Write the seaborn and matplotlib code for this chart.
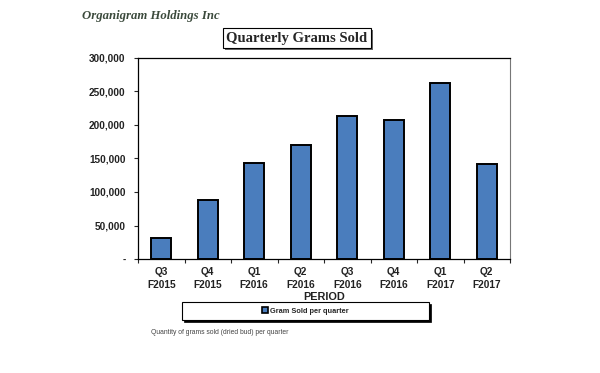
import numpy as np
import pandas as pd
import seaborn as sns
import matplotlib.pyplot as plt
import matplotlib.patheffects as pe
from matplotlib.patches import Rectangle
from matplotlib.ticker import FuncFormatter, FixedLocator

periods = ["Q3\nF2015", "Q4\nF2015", "Q1\nF2016", "Q2\nF2016",
           "Q3\nF2016", "Q4\nF2016", "Q1\nF2017", "Q2\nF2017"]
grams = [32000, 87500, 143500, 170000, 213500, 207500, 262000, 142000]
yticks = [0, 50000, 100000, 150000, 200000, 250000, 300000]

df = pd.DataFrame({"period": periods, "grams": grams})

sns.set_style("white")
plt.rcParams['font.family'] = ['Liberation Sans', 'DejaVu Sans']

fig = plt.figure(figsize=(6, 3.73), dpi=100)
ax = fig.add_axes([0.23, 0.3056, 0.62, 0.539])

bar_color = "#4a7dbd"
sns.barplot(data=df, x="period", y="grams", color=bar_color, edgecolor="black",
            linewidth=1.4, width=0.43, saturation=1, ax=ax)

ax.set_ylim(0, 300000)
ax.set_xlim(-0.5, len(periods) - 0.5)
ax.set_yticks(yticks)
ax.yaxis.set_major_formatter(FuncFormatter(lambda v, p: "-" if v == 0 else f"{int(v):,}"))
ax.tick_params(axis="y", direction="out", length=3, width=0.8, labelsize=7.2, pad=6, left=True)
ax.tick_params(axis="x", which="major", length=0, labelsize=7.3, pad=6)
ax.xaxis.set_minor_locator(FixedLocator(np.arange(-0.5, len(periods), 1.0)))
ax.tick_params(axis="x", which="minor", direction="out", length=3, width=0.8, bottom=True)
for lab in ax.get_xticklabels() + ax.get_yticklabels():
    lab.set_fontweight("bold")
    lab.set_color("#222222")
for lab in ax.get_xticklabels():
    lab.set_linespacing(1.35)

ax.set_ylabel("")
ax.set_xlabel("PERIOD", fontsize=7.8, fontweight="bold", labelpad=1, color="#222222")

for side in ["left", "bottom", "top"]:
    ax.spines[side].set_color("black")
    ax.spines[side].set_linewidth(0.9)
ax.spines["right"].set_color("#777777")
ax.spines["right"].set_linewidth(0.8)

# company name
fig.text(0.137, 0.958, "Organigram Holdings Inc", family=["Liberation Serif"],
         fontsize=9.2, fontweight="bold", style="italic", color="#3b4a3c", va="center")

# boxed title with shadow
t = fig.text(0.495, 0.898, "Quarterly Grams Sold", family=["Liberation Serif"],
             fontsize=10.5, fontweight="bold", ha="center", va="center",
             bbox=dict(boxstyle="square,pad=0.25", fc="white", ec="black", lw=0.8))
t.get_bbox_patch().set_path_effects([
    pe.SimplePatchShadow(offset=(1.5, -1.5), shadow_rgbFace="#555555", alpha=0.9),
    pe.Normal()])

# legend box with shadow
lx0, ly0, lw_, lh = 182 / 600, 1 - 320 / 373, 247 / 600, 18 / 373
fig.patches.append(Rectangle((lx0 + 1.5 / 600, ly0 - 1.5 / 373), lw_, lh, transform=fig.transFigure,
                             fc="black", ec="black", lw=0.5, zorder=1))
fig.patches.append(Rectangle((lx0, ly0), lw_, lh, transform=fig.transFigure,
                             fc="white", ec="black", lw=0.8, zorder=2))
handle = Rectangle((0, 0), 1, 1, fc=bar_color, ec="black", lw=1.2)
leg = fig.legend([handle], ["Gram Sold per quarter"], loc="center",
                 bbox_to_anchor=(lx0 + lw_ / 2, ly0 + lh / 2), frameon=False,
                 prop=dict(size=5.3, weight="bold"), handlelength=0.8, handleheight=0.8,
                 handletextpad=0.3, borderpad=0)
leg.set_zorder(3)

# footnote
fig.text(0.252, 1 - 332 / 373, "Quantity of grams sold (dried bud) per quarter",
         fontsize=4.9, color="#444444", va="center")

fig.savefig("out.png", dpi=100)
